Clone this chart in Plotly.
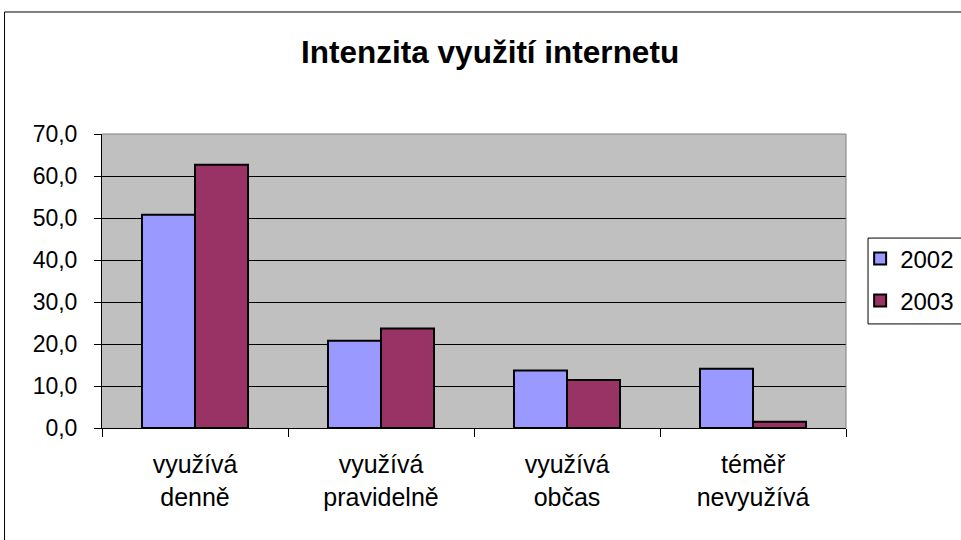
import plotly.graph_objects as go

categories = ["využívá<br>denně", "využívá<br>pravidelně", "využívá<br>občas", "téměř<br>nevyužívá"]
series_names = ["2002", "2003"]
values_2002 = [50.8, 20.8, 13.7, 14.1]
values_2003 = [62.7, 23.7, 11.4, 1.5]
y_ticks = [0, 10, 20, 30, 40, 50, 60, 70]
title_text = "Intenzita využití internetu"

FONT = "Liberation Sans, Arial, sans-serif"

fig = go.Figure()
fig.add_trace(go.Bar(x=categories, y=values_2002, name=series_names[0], legendgroup="a",
                     marker=dict(color="#9999FF", line=dict(color="black", width=2))))
fig.add_trace(go.Bar(x=categories, y=values_2003, name=series_names[1], legendgroup="b",
                     marker=dict(color="#993366", line=dict(color="black", width=2))))

fig.update_layout(
    width=961, height=540,
    margin=dict(l=102, r=115, t=134, b=112, autoexpand=False),
    paper_bgcolor="white", plot_bgcolor="#C0C0C0",
    separators=", ",
    font=dict(family=FONT, size=23, color="black"),
    title=dict(text="<b>" + title_text + "</b>", x=0.51, xanchor="center", y=0.903, yanchor="middle",
               font=dict(family=FONT, size=31.5, color="black")),
    bargap=0.43, bargroupgap=0,
    showlegend=True,
    legend=dict(x=1.019, xanchor="left", y=0.652, yanchor="top",
                borderwidth=0, bgcolor="rgba(0,0,0,0)",
                font=dict(family=FONT, size=24), tracegroupgap=8,
                itemwidth=30),
    xaxis=dict(type="category", showline=True, linecolor="black", linewidth=1,
               ticks="outside", tickson="boundaries", ticklen=8, tickcolor="black",
               showgrid=False, ticklabelstandoff=14, tickfont=dict(size=25)),
    yaxis=dict(range=[0, 70], tickvals=y_ticks, tickformat=".1f",
               showline=True, linecolor="black", linewidth=1,
               ticks="outside", ticklen=7, tickcolor="black",
               showgrid=True, gridcolor="black", gridwidth=1,
               zeroline=False, ticklabelstandoff=12, tickfont=dict(size=23)),
    shapes=[
        dict(type="line", xref="paper", yref="paper", x0=0, x1=1, y0=1, y1=1,
             line=dict(color="#808080", width=1)),
        dict(type="line", xref="paper", yref="paper", x0=1, x1=1, y0=0, y1=1,
             line=dict(color="#808080", width=1)),
        dict(type="rect", xref="paper", yref="paper", x0=-0.131, x1=1.17, y0=-0.41, y1=1.415,
             line=dict(color="black", width=1), fillcolor="rgba(0,0,0,0)", layer="below"),
        dict(type="rect", xref="paper", yref="paper", x0=1.0296, x1=1.17, y0=0.354, y1=0.646,
             line=dict(color="black", width=1), fillcolor="rgba(0,0,0,0)", layer="below"),
    ],
)

fig.write_html("out.html", config={"displayModeBar": False},
               post_script="document.body.style.margin='0';document.body.style.overflow='hidden';")
